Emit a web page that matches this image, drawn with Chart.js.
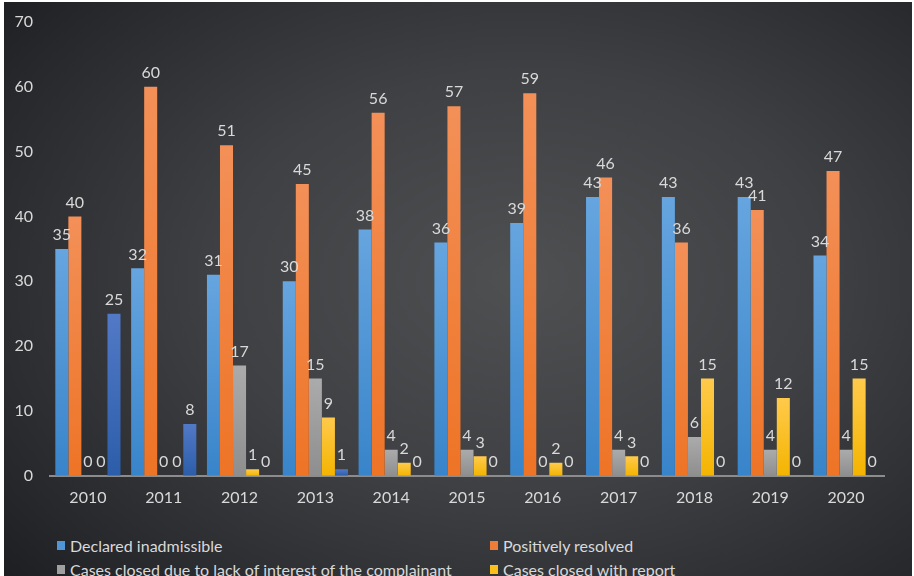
<!DOCTYPE html>
<html>
<head>
<meta charset="utf-8">
<script src="https://cdn.jsdelivr.net/npm/chart.js@4"></script>
<style>
  html, body { margin: 0; padding: 0; width: 914px; height: 576px; overflow: hidden; background: #ffffff; }
  .panel {
    position: absolute; left: 4px; top: 2px; width: 908px; height: 580px; overflow: hidden;
    background: radial-gradient(ellipse 75% 80% at 57% 48%, #4e5052 0%, #3e4043 45%, #26282b 85%, #1c1e21 100%);
  }
  .chart-box { position: absolute; left: 0; top: 0; width: 908px; height: 520px; }
  #legend {
    position: absolute; left: 53px; top: 534px;
    display: grid; grid-template-columns: 433px 400px; row-gap: 5px;
    font-family: Lato, "Open Sans", sans-serif; font-size: 16px; color: #d9d9d9;
  }
  #legend .item { display: flex; align-items: center; height: 19px; white-space: nowrap; }
  #legend .swatch { width: 8px; height: 9px; margin-right: 5px; }
</style>
</head>
<body>
<div class="panel">
  <div class="chart-box"><canvas id="casesChart" width="908" height="520"></canvas></div>
  <div id="legend"></div>
</div>
<script>
const years = ['2010', '2011', '2012', '2013', '2014', '2015', '2016', '2017', '2018', '2019', '2020'];

const declaredInadmissible = [35, 32, 31, 30, 38, 36, 39, 43, 43, 43, 34];
const positivelyResolved   = [40, 60, 51, 45, 56, 57, 59, 46, 36, 41, 47];
const closedLackOfInterest = [0, 0, 17, 15, 4, 4, 0, 4, 6, 4, 4];
const closedWithReport     = [0, 0, 1, 9, 2, 3, 2, 3, 15, 12, 15];
const otherCases           = [25, 8, 0, 1, 0, 0, 0, 0, 0, 0, 0];

const yTicks = [0, 10, 20, 30, 40, 50, 60, 70];

const series = [
    { label: 'Declared inadmissible', data: declaredInadmissible, top: '#66a5df', bottom: '#3884ca', swatch: '#4f96d8' },
    { label: 'Positively resolved', data: positivelyResolved, top: '#f39058', bottom: '#ee7426', swatch: '#ef7d3a' },
    { label: 'Cases closed due to lack of interest of the complainant', data: closedLackOfInterest, top: '#ababab', bottom: '#8e8e8e', swatch: '#a0a0a0' },
    { label: 'Cases closed with report', data: closedWithReport, top: '#ffca4c', bottom: '#f4b400', swatch: '#fbbf1c' },
    { label: 'Other', data: otherCases, top: '#5279c6', bottom: '#2c5da9', swatch: '#4169b8' }
];

const font = 'Lato, "Open Sans", sans-serif';

// each bar fades from a lighter top to a deeper base
function barGradient(s) {
    return ctx => {
        const chart = ctx.chart;
        if (!chart.chartArea || ctx.raw === undefined) return s.bottom;
        const y = chart.scales.y;
        const top = y.getPixelForValue(ctx.raw);
        const base = y.getPixelForValue(0);
        if (base - top < 1) return s.bottom;
        const g = chart.ctx.createLinearGradient(0, top, 0, base);
        g.addColorStop(0, s.top);
        g.addColorStop(1, s.bottom);
        return g;
    };
}

const valueLabels = {
    id: 'valueLabels',
    afterDatasetsDraw(chart) {
        const ctx = chart.ctx;
        ctx.save();
        ctx.font = '16px ' + font;
        ctx.fillStyle = '#d9d9d9';
        ctx.textAlign = 'center';
        ctx.textBaseline = 'bottom';
        chart.data.datasets.forEach((ds, i) => {
            chart.getDatasetMeta(i).data.forEach((bar, j) => {
                ctx.fillText(String(ds.data[j]), bar.x, bar.y - 6);
            });
        });
        ctx.restore();
    }
};

const ctx = document.getElementById('casesChart').getContext('2d');
new Chart(ctx, {
    type: 'bar',
    data: {
        labels: years,
        datasets: series.map(s => ({
            label: s.label,
            data: s.data,
            backgroundColor: barGradient(s),
            borderWidth: 0,
            categoryPercentage: 0.86,
            barPercentage: 1.0
        }))
    },
    options: {
        responsive: false,
        animation: false,
        layout: { padding: { left: 11, right: 28, top: 20, bottom: 3 } },
        plugins: {
            legend: { display: false },
            tooltip: { enabled: false }
        },
        scales: {
            x: {
                grid: { display: false, drawTicks: false },
                border: { display: true, color: '#8c8c8c', width: 2 },
                ticks: { color: '#d9d9d9', font: { family: font, size: 16 }, padding: 12 }
            },
            y: {
                min: 0,
                max: 70,
                afterBuildTicks: axis => { axis.ticks = yTicks.map(v => ({ value: v })); },
                afterFit: axis => {
                    axis.width = 35;
                    axis.paddingTop = 0;
                    axis.paddingBottom = 0;
                },
                grid: { display: false, drawTicks: false },
                border: { display: false },
                ticks: { color: '#d9d9d9', font: { family: font, size: 16 }, padding: 17 }
            }
        }
    },
    plugins: [valueLabels]
});

// two-column legend under the chart
const legend = document.getElementById('legend');
series.forEach(s => {
    const item = document.createElement('div');
    item.className = 'item';
    const sw = document.createElement('span');
    sw.className = 'swatch';
    sw.style.background = s.swatch;
    item.appendChild(sw);
    item.appendChild(document.createTextNode(s.label));
    legend.appendChild(item);
});
</script>
</body>
</html>
